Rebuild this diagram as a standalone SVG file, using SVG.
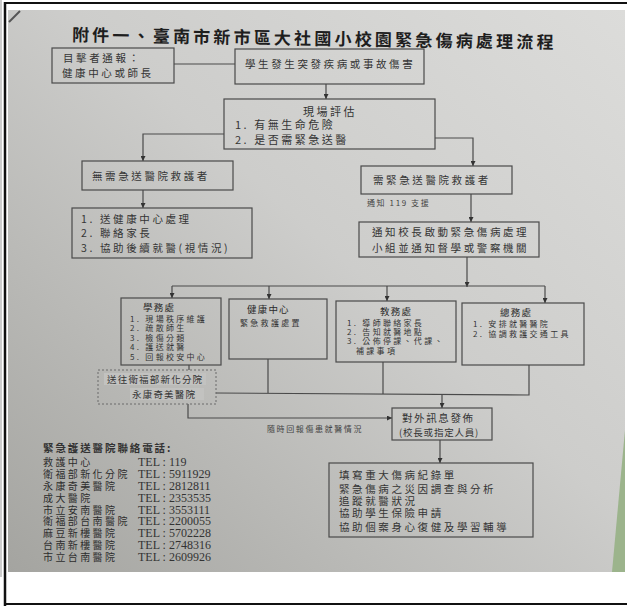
<svg xmlns="http://www.w3.org/2000/svg" width="627" height="607" viewBox="0 0 627 607">
<defs>
<linearGradient id="bg" x1="1" y1="0" x2="0" y2="1">
<stop offset="0" stop-color="#dcdcda"/>
<stop offset="0.45" stop-color="#cdcdcb"/>
<stop offset="1" stop-color="#a4a4a0"/>
</linearGradient>
<marker id="ah" viewBox="0 0 6 6" refX="6" refY="3" markerWidth="5" markerHeight="5" markerUnits="userSpaceOnUse" orient="auto"><path d="M0,0 L6,3 L0,6 z" fill="#333"/></marker>
<style>
.box{fill:none;stroke:#4a4a4a;stroke-width:1.2}
.dash{fill:none;stroke:#6a6a6a;stroke-width:1;stroke-dasharray:2 2}
.ln{fill:none;stroke:#4a4a4a;stroke-width:1.2}
.arr{marker-end:url(#ah)}
text{font-family:"Noto Sans CJK TC","Noto Sans CJK SC",sans-serif;fill:#353535}
.title{font-size:17px;font-weight:700;letter-spacing:3.2px;fill:#1e1e1e}
.m{font-size:10.5px;letter-spacing:2.6px}
.m3{font-size:11px;letter-spacing:2.5px}
.h{font-size:9.5px;letter-spacing:1.2px;fill:#2a2a2a}
.s{font-size:8px;letter-spacing:2.3px}
.d{font-size:9.5px;letter-spacing:1.2px}
.lab{font-size:8px;letter-spacing:1.6px;fill:#444}
.phh{font-size:10.5px;letter-spacing:1.9px;font-weight:700;fill:#333}
.ph{font-size:10px;letter-spacing:2.4px;fill:#2e2e2e}
.tel{font-family:"Liberation Serif",serif;font-size:12px;fill:#333}
</style>
</defs>

<rect x="0" y="0" width="627" height="607" fill="#ffffff"/>
<rect x="8" y="10" width="617" height="562" fill="url(#bg)"/>
<polygon points="625,430 625,572 612,572" fill="#9cb48c"/>
<line x1="9" y1="22" x2="20" y2="11" stroke="#555" stroke-width="2"/>
<line x1="1" y1="0" x2="1" y2="577" stroke="#999" stroke-width="1"/>
<line x1="5" y1="2" x2="5" y2="606" stroke="#111" stroke-width="2.5"/>
<line x1="4" y1="3" x2="627" y2="3" stroke="#111" stroke-width="2"/>
<line x1="4" y1="604" x2="627" y2="604" stroke="#111" stroke-width="2"/>

<text id="title" class="title" x="72" y="41" transform="rotate(0.9 72 34)">附件一、臺南市新市區大社國小校園緊急傷病處理流程</text>

<g id="connectors">
<line class="ln" x1="174" y1="64" x2="235" y2="64"/>
<line class="ln arr" x1="326" y1="84" x2="326" y2="99"/>
<polyline class="ln arr" points="224,134 143,134 143,161"/>
<line class="ln arr" x1="143" y1="190" x2="143" y2="208"/>
<polyline class="ln arr" points="435,138 473,138 473,166"/>
<line class="ln arr" x1="471" y1="194" x2="471" y2="222"/>
<line class="ln arr" x1="467" y1="257" x2="467" y2="287"/>
<line class="ln" x1="172" y1="286" x2="545" y2="286"/>
<line class="ln arr" x1="172" y1="286" x2="172" y2="298"/>
<line class="ln arr" x1="269" y1="286" x2="269" y2="299"/>
<line class="ln arr" x1="387" y1="286" x2="387" y2="301"/>
<line class="ln arr" x1="545" y1="286" x2="545" y2="303"/>
<line class="ln" x1="189" y1="365" x2="189" y2="370"/>
<line class="ln" x1="268" y1="359" x2="268" y2="393"/>
<line class="ln" x1="383" y1="362" x2="383" y2="394"/>
<polyline class="ln" points="529,365 529,395 216,393"/>
<line class="ln arr" x1="442" y1="394" x2="442" y2="408"/>
<polyline class="ln arr" points="188,404 188,418 392,418"/>
<line class="ln arr" x1="440" y1="440" x2="440" y2="463"/>
<text class="lab" x="267" y="432">隨時回報傷患就醫情況</text>
<text class="lab" x="367" y="206">通知 119 支援</text>
</g>

<g id="witness">
<rect class="box" x="52" y="48" width="122" height="35"/>
<text class="m" x="63" y="62">目擊者通報：</text>
<text class="m" x="62" y="77">健康中心或師長</text>
</g>

<g id="incident">
<rect class="box" x="235" y="49" width="189" height="35"/>
<text class="m" x="245" y="68">學生發生突發疾病或事故傷害</text>
</g>

<g id="assess">
<rect class="box" x="224" y="99" width="211" height="50"/>
<text class="m3" x="303" y="116">現場評估</text>
<text class="m3" x="235" y="129">1. 有無生命危險</text>
<text class="m3" x="235" y="144">2. 是否需緊急送醫</text>
</g>

<g id="no-hospital">
<rect class="box" x="82" y="161" width="151" height="29"/>
<text class="m" x="92" y="180">無需急送醫院救護者</text>
</g>

<g id="no-hospital-steps">
<rect class="box" x="72" y="208" width="180" height="50"/>
<text class="m" x="81" y="223">1.</text><text class="m" x="100" y="223">送健康中心處理</text>
<text class="m" x="81" y="237">2.</text><text class="m" x="100" y="237">聯絡家長</text>
<text class="m" x="81" y="252">3.</text><text class="m" x="100" y="252">協助後續就醫(視情況)</text>
</g>

<g id="hospital">
<rect class="box" x="361" y="166" width="151" height="28"/>
<text class="m" x="373" y="184">需緊急送醫院救護者</text>
</g>

<g id="notify">
<rect class="box" x="359" y="222" width="180" height="35"/>
<text class="m" x="372" y="236">通知校長啟動緊急傷病處理</text>
<text class="m" x="372" y="252">小組並通知督學或警察機關</text>
</g>

<g id="student-affairs">
<rect class="box" x="121" y="298" width="100" height="67"/>
<text class="h" x="143" y="311">學務處</text>
<text class="s" x="130" y="322">1. 現場秩序維護</text>
<text class="s" x="130" y="331">2. 疏散師生</text>
<text class="s" x="130" y="341">3. 檢傷分類</text>
<text class="s" x="130" y="350">4. 護送就醫</text>
<text class="s" x="130" y="360">5. 回報校安中心</text>
</g>

<g id="health-center">
<rect class="box" x="229" y="299" width="98" height="60"/>
<text class="h" x="247" y="313">健康中心</text>
<text class="s" x="240" y="326">緊急救護處置</text>
</g>

<g id="academic-affairs">
<rect class="box" x="336" y="301" width="120" height="61"/>
<text class="h" x="380" y="315">教務處</text>
<text class="s" x="347" y="326">1. 導師聯絡家長</text>
<text class="s" x="347" y="335">2. 告知就醫地點</text>
<text class="s" x="347" y="344">3. 公佈停課、代課、</text>
<text class="s" x="356" y="354">補課事項</text>
</g>

<g id="general-affairs">
<rect class="box" x="462" y="303" width="122" height="62"/>
<text class="h" x="500" y="316">總務處</text>
<text class="s" x="473" y="327">1. 安排就醫醫院</text>
<text class="s" x="473" y="337">2. 協調救護交通工具</text>
</g>

<g id="transfer">
<rect x="104" y="373" width="102" height="12" fill="#c2c2c0"/>
<rect x="130" y="388" width="74" height="12" fill="#c2c2c0"/>
<rect class="dash" x="98" y="370" width="118" height="34"/>
<text class="d" x="107" y="383">送往衛福部新化分院</text>
<text class="d" x="132" y="398">永康奇美醫院</text>
</g>

<g id="press">
<rect class="box" x="392" y="408" width="100" height="32"/>
<text class="m" x="402" y="422" style="letter-spacing:1.6px">對外訊息發佈</text>
<text class="d" x="399" y="436" style="letter-spacing:0.8px">(校長或指定人員)</text>
</g>

<g id="follow-up">
<rect class="box" x="329" y="463" width="204" height="74"/>
<text class="m" x="339" y="479">填寫重大傷病紀錄單</text>
<text class="m" x="339" y="493">緊急傷病之災因調查與分析</text>
<text class="m" x="339" y="505">追蹤就醫狀況</text>
<text class="m" x="339" y="517">協助學生保險申請</text>
<text class="m" x="339" y="531">協助個案身心復健及學習輔導</text>
</g>

<g id="phone-list">
<text class="phh" x="43" y="452">緊急護送醫院聯絡電話:</text>
<text class="ph" x="43" y="466">救護中心</text><text class="tel" x="138" y="466">TEL : 119</text>
<text class="ph" x="43" y="478">衛福部新化分院</text><text class="tel" x="138" y="478">TEL : 5911929</text>
<text class="ph" x="43" y="490">永康奇美醫院</text><text class="tel" x="138" y="490">TEL : 2812811</text>
<text class="ph" x="43" y="502">成大醫院</text><text class="tel" x="138" y="502">TEL : 2353535</text>
<text class="ph" x="43" y="514">市立安南醫院</text><text class="tel" x="138" y="514">TEL : 3553111</text>
<text class="ph" x="43" y="525">衛福部台南醫院</text><text class="tel" x="138" y="525">TEL : 2200055</text>
<text class="ph" x="43" y="537">麻豆新樓醫院</text><text class="tel" x="138" y="537">TEL : 5702228</text>
<text class="ph" x="43" y="549">台南新樓醫院</text><text class="tel" x="138" y="549">TEL : 2748316</text>
<text class="ph" x="43" y="561">市立台南醫院</text><text class="tel" x="138" y="561">TEL : 2609926</text>
</g>
</svg>
